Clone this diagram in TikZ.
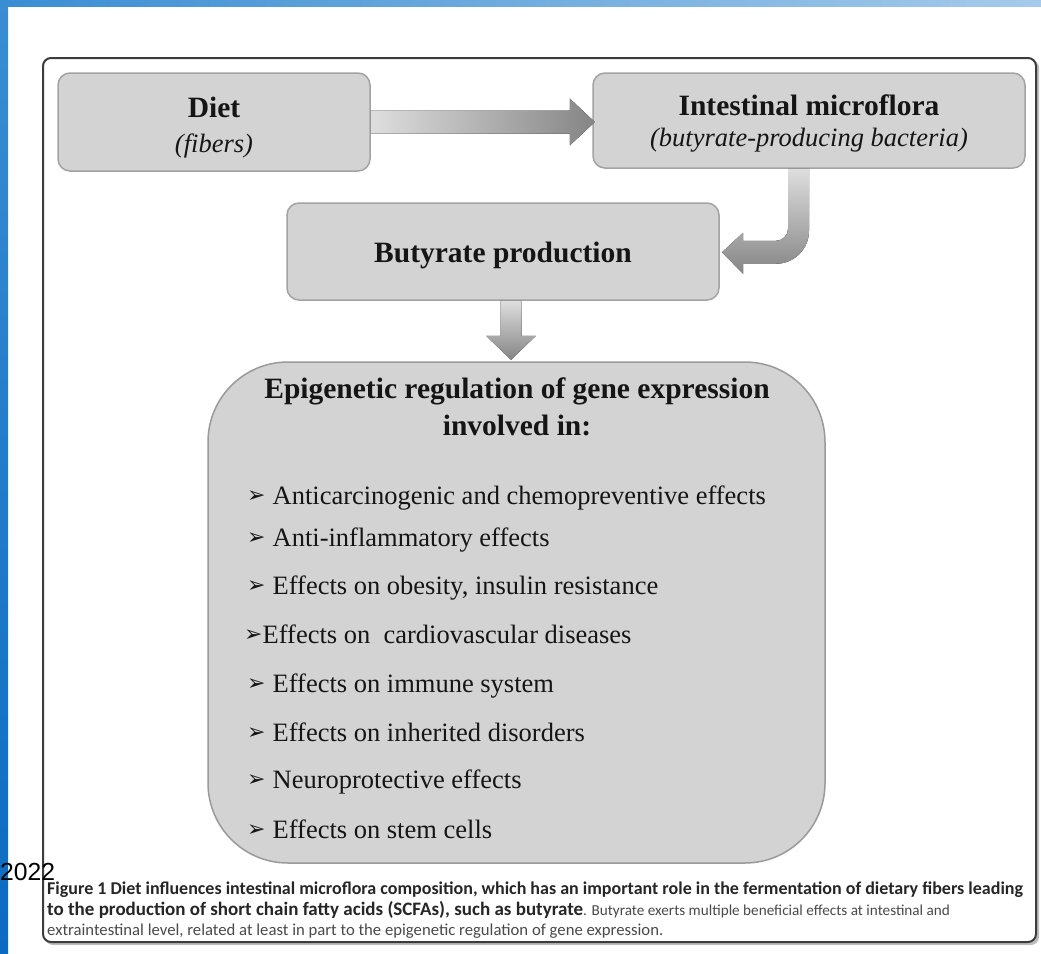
\documentclass[tikz,border=0pt]{standalone}
\usepackage{fontspec}
\setmainfont{Liberation Serif}
\newfontfamily\capfont{Carlito}
\newfontfamily\symfont{DejaVu Sans}
\newfontfamily\yearfont{Liberation Sans}
\usetikzlibrary{calc}

\definecolor{boxfill}{HTML}{D3D3D3}
\definecolor{boxline}{HTML}{A3A3A3}
\definecolor{bigline}{HTML}{9A9A9A}
\definecolor{framecol}{HTML}{3C3C3C}
\definecolor{shadowcol}{HTML}{BDBDBD}
\definecolor{arrowlight}{HTML}{DEDEDE}
\definecolor{arrowdark}{HTML}{858585}
\definecolor{ink}{HTML}{151515}
\definecolor{capbold}{HTML}{262626}
\definecolor{capreg}{HTML}{4A4A4A}
\definecolor{bluedark}{HTML}{0B6BC1}
\definecolor{bluemid}{HTML}{3A8DD3}
\definecolor{bluelight}{HTML}{A6CBEA}

% list marker: a dingbat arrowhead, raised slightly above the baseline
\newcommand\bul{\raisebox{1.5pt}{\symfont\fontsize{22}{24}\selectfont ➢}}

\begin{document}
\begin{tikzpicture}[x=1pt,y=-1pt,
  box/.style={draw=boxline, fill=boxfill, line width=1.5pt, rounded corners=12pt, inner sep=0pt},
  head/.style={font=\fontsize{29.5}{35}\selectfont\bfseries, text=ink, inner sep=0pt, anchor=base},
  sub/.style={font=\fontsize{26.5}{32}\selectfont\itshape, text=ink, inner sep=0pt, anchor=base},
  item/.style={font=\fontsize{26.5}{32}\selectfont, text=ink, inner sep=0pt, anchor=base west},
  captext/.style={font=\capfont\fontsize{16.7}{21}\selectfont, inner sep=0pt, anchor=base west, text=capreg},
  flowh/.style={draw=none, left color=arrowlight, right color=arrowdark},
  flowv/.style={draw=none, top color=arrowlight, bottom color=arrowdark},
]
\useasboundingbox (0,0) rectangle (1041,953);

% blue page edges
\fill[left color=bluemid, right color=bluelight] (0,0) rectangle (1041,6);
\fill[top color=bluemid, bottom color=bluedark] (0,0) rectangle (8,953);

% figure frame with soft shadow
\fill[shadowcol, rounded corners=8pt] (45,60) rectangle (1039,945);
\node[draw=framecol, fill=white, line width=2pt, rounded corners=8pt,
      minimum width=993pt, minimum height=884pt, inner sep=0pt] (frame) at (539.5,500) {};

% top row
\node[box, minimum width=312pt, minimum height=98pt] (dietbox) at (214,122) {};
\node[head] (diettitle) at (214,117) {Diet};
\node[sub] (dietsub) at (214,152) {(fibers)};

\node[box, minimum width=432pt, minimum height=95pt] (microbox) at (809,120.5) {};
\node[head] (microtitle) at (809,115) {Intestinal microflora};
\node[sub] (microsub) at (809,146) {(butyrate-producing bacteria)};

% second row
\node[box, minimum width=432pt, minimum height=97pt] (butybox) at (503,251.5) {};
\node[head] (butytitle) at (503,262) {Butyrate production};

% large box
\node[draw=bigline, fill=boxfill, line width=1.5pt, rounded corners=80pt, inner sep=0pt,
      minimum width=617pt, minimum height=501pt] (bigbox) at (516.5,612.5) {};
\node[head] (bigtitle1) at (517,398) {Epigenetic regulation of gene expression};
\node[head] (bigtitle2) at (517,435) {involved in:};

\node[item] (it1) at (247,504) {\bul\hspace{7pt}Anticarcinogenic and chemopreventive effects};
\node[item] (it2) at (247,546) {\bul\hspace{7pt}Anti-inflammatory effects};
\node[item] (it3) at (247,594) {\bul\hspace{7pt}Effects on obesity, insulin resistance};
\node[item] (it4) at (244,643) {\bul Effects on\ \ cardiovascular diseases};
\node[item] (it5) at (247,692) {\bul\hspace{7pt}Effects on immune system};
\node[item] (it6) at (247,741) {\bul\hspace{7pt}Effects on inherited disorders};
\node[item] (it7) at (247,788) {\bul\hspace{7pt}Neuroprotective effects};
\node[item] (it8) at (247,838) {\bul\hspace{7pt}Effects on stem cells};

% block arrows
\fill[flowh] ([yshift=11.5pt]dietbox.east) -- ++(199,0) -- ++(0,-12) -- ++(25,23.5)
  -- ++(-25,23.5) -- ++(0,-12) -- ++(-199,0) -- cycle;

\fill[flowv] ([xshift=-21pt]microbox.south) -- ++(0,60)
  arc[start angle=0, end angle=90, radius=12] -- ++(-33,0) -- ++(0,-8)
  -- ++(-21,19.5) -- ++(21,21.5) -- ++(0,-10) -- ++(33,0)
  arc[start angle=90, end angle=0, radius=33] -- ++(0,-62) -- cycle;

\fill[flowv] ([xshift=-2.5pt]butybox.south) -- ++(0,35) -- ++(-14.5,0) -- ++(25,24)
  -- ++(25,-24) -- ++(-14.5,0) -- ++(0,-35) -- cycle;

% caption
\node[captext] (cap1) at (47,894) {{\fontsize{18}{21}\selectfont\bfseries\color{capbold}Figure 1 Diet influences intestinal microflora composition, which has an important role in the fermentation of dietary fibers leading}};
\node[captext] (cap2) at (47,915) {{\fontsize{19}{21}\selectfont\bfseries\color{capbold}to the production of short chain fatty acids (SCFAs), such as butyrate}{\fontsize{15.2}{21}\selectfont. Butyrate exerts multiple beneficial effects at intestinal and}};
\node[captext] (cap3) at (47,935) {extraintestinal level, related at least in part to the epigenetic regulation of gene expression.};

% year label
\node[font=\yearfont\fontsize{24.7}{28}\selectfont, text=black, inner sep=0pt, anchor=base west] (year) at (0,880) {2022};
\end{tikzpicture}
\end{document}
